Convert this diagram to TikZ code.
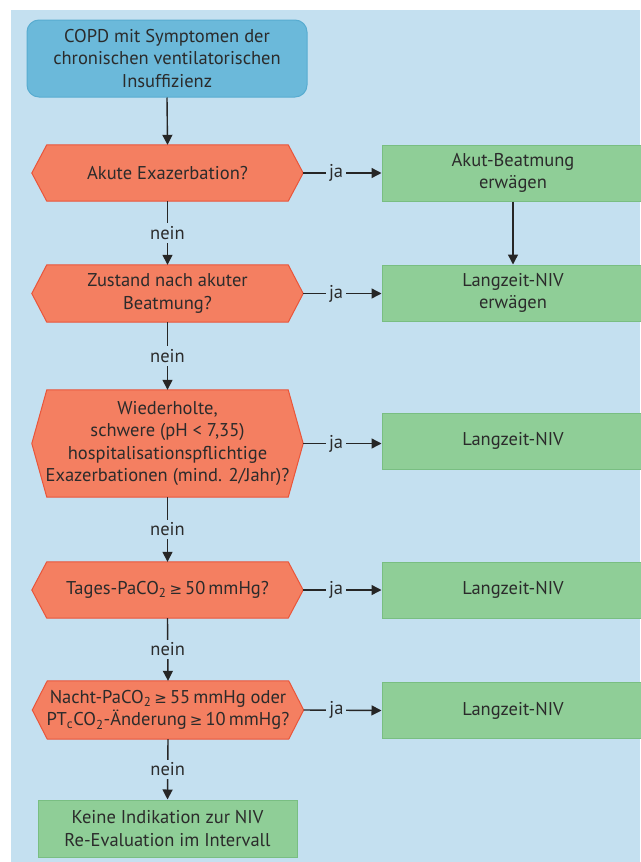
\documentclass[tikz,border=0pt]{standalone}
\usepackage{fontspec}
\setmainfont{PT Sans}
\newfontfamily\symfont{DejaVu Sans}
\usetikzlibrary{arrows.meta}
\pgfdeclarelayer{back}
\pgfsetlayers{back,main}
\definecolor{bgblue}{HTML}{C4E0F0}
\definecolor{startfill}{HTML}{6BB9DA}
\definecolor{startdraw}{HTML}{58ACD0}
\definecolor{hexfill}{HTML}{F47F61}
\definecolor{hexdraw}{HTML}{E9553A}
\definecolor{gfill}{HTML}{8FCE97}
\definecolor{gdraw}{HTML}{79BE82}
\definecolor{txt}{HTML}{2B2B2B}
\newcommand\geqsym{{\symfont\fontsize{15}{15}\selectfont ≥}}
\newcommand\hexshape[1]{%
  \begin{pgfonlayer}{back}
  \path[fill=hexfill,draw=hexdraw,line width=1pt]
    ([xshift=15pt]#1.north west) -- ([xshift=-15pt]#1.north east) -- (#1.east)
    -- ([xshift=-15pt]#1.south east) -- ([xshift=15pt]#1.south west) -- (#1.west) -- cycle;
  \end{pgfonlayer}}
\begin{document}
\begin{tikzpicture}[x=1pt,y=-1pt,
  font=\fontsize{18.5}{22.5}\selectfont, text=txt,
  startbox/.style={rectangle, rounded corners=12pt, fill=startfill, draw=startdraw, line width=1pt,
    minimum width=280pt, minimum height=77pt, align=center, inner sep=0pt},
  hexnode/.style={rectangle, minimum width=271pt, align=center, inner sep=0pt},
  greenbox/.style={rectangle, fill=gfill, draw=gdraw, line width=1pt,
    minimum width=262pt, minimum height=56pt, align=center, inner sep=0pt},
  arr/.style={draw=black!85, line width=1.4pt, -{Triangle[length=10pt,width=10pt]}},
  lbl/.style={fill=bgblue, inner sep=3pt, text=txt}]
\useasboundingbox (0,0) rectangle (640,862);
\begin{pgfonlayer}{back}
\fill[bgblue] (11,10) rectangle (640,862);
\end{pgfonlayer}
\node[startbox] (start) at (167,58.5) {COPD mit Symptomen der\\chronischen ventilatorischen\\Insuffizienz};
\node[hexnode, minimum height=56pt] (d1) at (167.5,173) {Akute Exazerbation?};
\hexshape{d1}
\node[hexnode, minimum height=57pt] (d2) at (167.5,293.5) {Zustand nach akuter\\Beatmung?};
\hexshape{d2}
\node[hexnode, minimum height=107pt] (d3) at (167.5,443.5) {Wiederholte,\\schwere (pH < 7,35)\\hospitalisationspflichtige\\Exazerbationen (mind. 2/Jahr)?};
\hexshape{d3}
\node[hexnode, minimum height=56pt] (d4) at (167.5,590) {Tages-PaCO\textsubscript{2}\,\geqsym\,50\,mmHg?};
\hexshape{d4}
\node[hexnode, minimum height=58pt] (d5) at (168,710) {Nacht-PaCO\textsubscript{2}\,\geqsym\,55\,mmHg oder\\PT\textsubscript{c}CO\textsubscript{2}-Änderung\,\geqsym\,10\,mmHg?};
\hexshape{d5}
\node[greenbox] (g1) at (513,173) {Akut-Beatmung\\erwägen};
\node[greenbox] (g2) at (513,293) {Langzeit-NIV\\erwägen};
\node[greenbox] (g3) at (513,441) {Langzeit-NIV};
\node[greenbox] (g4) at (513,590) {Langzeit-NIV};
\node[greenbox] (g5) at (513,710.5) {Langzeit-NIV};
\node[greenbox, minimum width=259pt, minimum height=57pt] (end) at (167.5,828.5) {Keine Indikation zur NIV\\Re-Evaluation im Intervall};
\draw[arr] (start.south) -- (d1.north);
\draw[arr] (d1.south) -- node[lbl] {nein} (d2.north);
\draw[arr] (d2.south) -- node[lbl] {nein} (d3.north);
\draw[arr] (d3.south) -- node[lbl] {nein} (d4.north);
\draw[arr] (d4.south) -- node[lbl] {nein} (d5.north);
\draw[arr] (d5.south) -- node[lbl] {nein} (end.north);
\draw[arr] (d1.east) -- node[lbl, pos=0.42] {ja} (g1.west);
\draw[arr] (d2.east) -- node[lbl, pos=0.42] {ja} (d2.east -| g2.west);
\draw[arr] (d3.east) -- node[lbl, pos=0.42] {ja} (d3.east -| g3.west);
\draw[arr] (d4.east) -- node[lbl, pos=0.42] {ja} (g4.west);
\draw[arr] (d5.east) -- node[lbl, pos=0.42] {ja} (g5.west);
\draw[arr] (g1.south) -- (g2.north);
\end{tikzpicture}
\end{document}
